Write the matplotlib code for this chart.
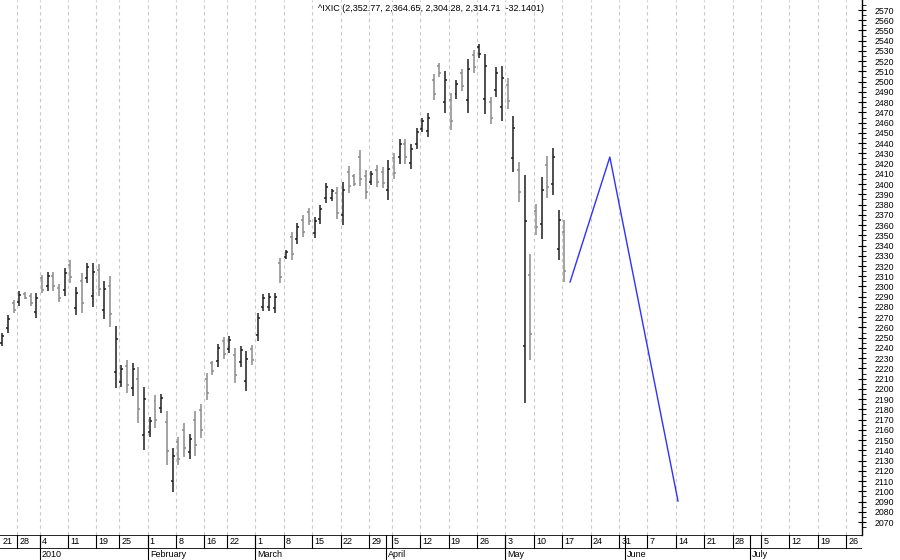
import matplotlib
matplotlib.use("Agg")
import matplotlib.pyplot as plt
from matplotlib.collections import LineCollection
import pandas as pd
import numpy as np

title = "^IXIC (2,352.77, 2,364.65, 2,304.28, 2,314.71  -32.1401)"
highs = [2254.6,2272.2,2286.8,2295.6,2294.6,2293.7,2293.7,2311.2,2314.2,2314.2,2302.5,2318.1,2325.9,2299.5,2313.2,2323.0,2323.0,2322.0,2305.4,2310.3,
 2261.4,2223.3,2228.2,2225.3,2221.4,2201.9,2172.6,2194.0,2195.0,2178.4,2142.3,2153.0,2166.7,2156.0,2178.4,2185.3,2215.5,2227.2,2243.9,2250.7,
 2251.7,2240.0,2241.9,2237.0,2242.9,2274.1,2292.7,2293.7,2293.7,2327.8,2335.7,2353.2,2362.0,2369.8,2376.7,2367.9,2379.6,2401.1,2395.2,2397.2,
 2402.1,2417.7,2409.9,2433.3,2413.8,2412.8,2418.7,2416.7,2423.5,2430.4,2444.1,2444.1,2439.2,2454.8,2464.6,2469.4,2507.5,2518.3,2510.5,2489.0,
 2501.7,2512.4,2522.2,2531.0,2536.8,2527.1,2485.1,2514.4,2515.3,2503.6,2466.5,2421.6,2408.9,2331.7,2380.6,2406.9,2427.5,2435.3,2374.7,2364.65]
lows = [2241.9,2254.6,2274.1,2281.0,2287.8,2281.0,2269.2,2293.7,2295.6,2295.6,2284.9,2290.7,2303.4,2272.2,2274.1,2303.4,2280.0,2290.7,2268.3,2260.5,
 2200.9,2201.9,2196.0,2193.1,2166.7,2140.3,2153.0,2161.8,2176.5,2125.7,2099.3,2125.7,2133.5,2131.5,2134.5,2152.1,2189.2,2213.6,2221.4,2229.2,
 2235.1,2205.8,2221.4,2198.0,2223.3,2246.8,2276.1,2276.1,2274.1,2303.4,2326.9,2325.9,2341.5,2348.3,2360.1,2347.4,2361.0,2381.6,2383.5,2365.9,
 2360.1,2391.3,2398.2,2398.2,2385.5,2399.1,2397.2,2396.2,2384.5,2405.0,2419.6,2419.6,2414.8,2434.3,2450.9,2446.0,2482.1,2504.6,2469.4,2452.8,
 2483.1,2491.0,2469.4,2508.5,2523.2,2468.5,2458.7,2485.1,2461.6,2473.3,2411.8,2382.5,2186.2,2228.2,2350.3,2346.4,2386.4,2389.4,2325.9,2304.28]
opens = [2245,2259,2284,2285,2293,2291,2275,2308,2300,2310,2299,2297,2321,2279,2305,2308,2291,2316,2277,2300,
 2216,2207,2222,2201,2210,2155,2158,2188,2181,2168,2110,2148,2160,2138,2170,2179,2210,2225,2227,2247,
 2239,2233,2226,2208,2239,2253,2280,2280,2279,2323,2329,2348,2346,2365,2373,2352,2366,2386,2386,2391,
 2370,2412,2408,2426,2408,2402,2414,2412,2394,2425,2426,2439,2421,2439,2454,2452,2502,2515,2480,2482,
 2488,2508,2482,2526,2534,2483,2480,2492,2475,2497,2425,2414,2242,2311,2374,2361,2419,2400,2337,2352.77]
closes = [2252,2268,2277,2292,2289,2284,2289,2297,2310,2300,2289,2313,2309,2294,2284,2319,2314,2298,2298,2273,
 2249,2219,2204,2219,2180,2190,2169,2170,2191,2139,2134,2132,2142,2151,2145,2160,2196,2217,2240,2234,
 2248,2214,2238,2229,2228,2269,2289,2290,2290,2309,2334,2332,2358,2353,2364,2364,2376,2397,2393,2372,
 2394,2398,2400,2405,2392,2410,2402,2401,2415,2411,2439,2426,2434,2451,2462,2465,2488,2508,2502,2462,
 2498,2496,2512,2514,2527,2515,2465,2508,2504,2481,2455,2392,2364,2254,2358,2394,2397,2426,2365,2314.71]
shade = list("kkgkggkgkggkgkgkkgkgkkgkgkkgkgkggkggggkgkgkkgkkkkgkgkggkkkkgkggggkgg"
             "kgkgkkkkggkgkgkgkkgkkgkgkggkgkkg")
proj_prices = [2304.4, 2426.4, 2090.5]
proj_offsets = [1, 8, 20]

holidays = pd.to_datetime(["2009-12-25","2010-01-01","2010-01-18","2010-02-15","2010-04-02"])
past = [d for d in pd.bdate_range("2009-12-21","2010-05-17") if d not in holidays]
future = list(pd.bdate_range("2010-05-18","2010-08-06"))
cal = past + future
n = len(highs)

fig = plt.figure(figsize=(9,5.6), dpi=100)
W, H = 900, 560
ax = fig.add_axes([0, 25/H, 862/W, 1-25/H])
xs = np.arange(1, n+1)
cols = ['#1e1e1e' if s == 'k' else '#8a8a8a' for s in shade[:n]]
segs, tcols = [], []
for i in range(n):
    x = xs[i]
    segs += [[(x, lows[i]), (x, highs[i])], [(x-0.35, opens[i]), (x, opens[i])], [(x, closes[i]), (x+0.35, closes[i])]]
    tcols += [cols[i]]*3
ax.add_collection(LineCollection(segs, colors=tcols, linewidths=1.1))
px = [n + o for o in proj_offsets]
ax.plot(px, proj_prices, color='#3030ff', lw=1)

u0, u1 = 0.62, 152.4
ax.set_xlim(u0, u1)
ax.set_ylim(2570-525/1.024, 2570+10/1.024)

wk, wl, ml, mlabels = [], [], [], []
prev_week = None; prev_month = None
for i, d in enumerate(cal):
    key = d.isocalendar()[:2]
    if key != prev_week:
        wk.append(i - 0.4); wl.append(str(d.day)); prev_week = key
    if d.month != prev_month:
        if prev_month is not None:
            ml.append(i - 0.4); mlabels.append("2010" if d.month == 1 else d.strftime("%B"))
        prev_month = d.month
for x in wk:
    ax.axvline(x, color='#c8c8c8', lw=0.8, ls=(0,(3,3)), zorder=0)
ax.set_xticks([])
for s in ['top','left','bottom']:
    ax.spines[s].set_visible(False)
ax.spines['right'].set_linewidth(1)
ax.yaxis.tick_right()
ax.set_yticks(np.arange(2070, 2571, 10))
ax.set_yticks(np.arange(2065, 2576, 5), minor=True)
for lab in ax.get_yticklabels():
    lab.set_family('Liberation Sans')
ax.tick_params(axis='y', which='major', length=6, labelsize=6.3, pad=6, direction='inout')
ax.tick_params(axis='y', which='minor', length=3, direction='out')
ax.text(0.5, 0.993, title, transform=ax.transAxes, ha='center', va='top', fontsize=6.5,
        family='Liberation Sans')

ax2 = fig.add_axes([0, 0, 862/W, 25/H])
ax2.set_xlim(u0, u1); ax2.set_ylim(0, 2)
ax2.axis('off')
ax2.axhline(2, color='black', lw=1.2)
ax2.axhline(1, color='black', lw=0.6)
for x, l in zip(wk, wl):
    if x > u1: continue
    ax2.plot([x, x], [1, 2], color='black', lw=0.8)
    ax2.text(max(x, u0)+0.4, 1.5, l, fontsize=6.5, va='center', ha='left', family='Liberation Sans')
for x, l in zip(ml, mlabels):
    if x > u1 - 3: continue
    ax2.plot([x, x], [0, 2], color='black', lw=0.8)
    ax2.text(x+0.4, 0.45, l, fontsize=6.5, va='center', ha='left', family='Liberation Sans')
fig.savefig("out.png", dpi=100)
